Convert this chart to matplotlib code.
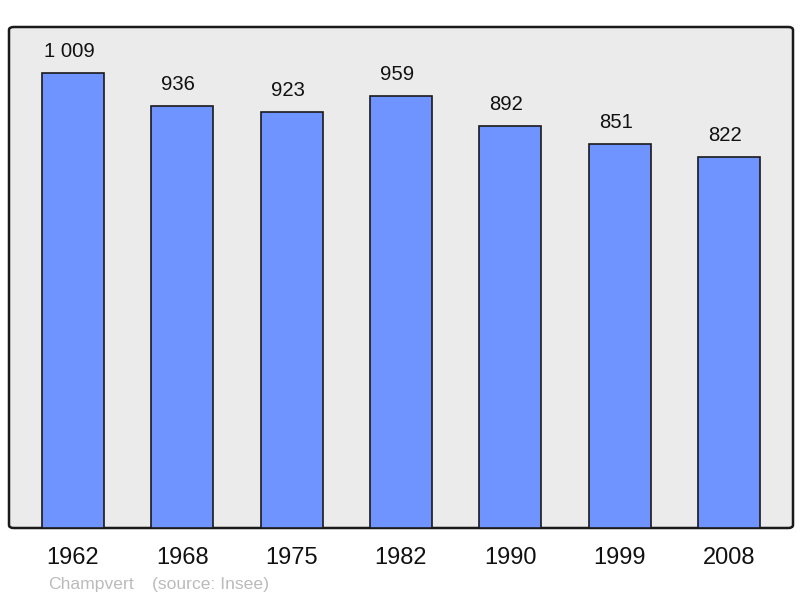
import matplotlib.pyplot as plt
from matplotlib.patches import FancyBboxPatch

years = ["1962", "1968", "1975", "1982", "1990", "1999", "2008"]
population = [1009, 936, 923, 959, 892, 851, 822]
value_labels = ["1 009", "936", "923", "959", "892", "851", "822"]

font = ["Liberation Sans", "DejaVu Sans"]
plt.rcParams['font.family'] = font

fig = plt.figure(figsize=(8, 5.98), dpi=100)
ax = fig.add_axes([9 / 800, 70 / 598, 784 / 800, 501 / 598])
ax.set_facecolor('none')

# rounded grey panel behind the bars
panel = FancyBboxPatch((0, 0), 1, 1, boxstyle="round,pad=0,rounding_size=0.006",
                       transform=ax.transAxes, facecolor='#ebebeb', edgecolor='#1a1a1a',
                       linewidth=1.8, zorder=0, clip_on=False)
ax.add_patch(panel)

x = range(len(years))
ax.bar(x, population, width=0.566, color='#7094ff', edgecolor='#1a1a1a', linewidth=1.2, zorder=2)

for i, (v, lab) in enumerate(zip(population, value_labels)):
    ax.annotate(lab, (i, v), xytext=(-2.8, 15.5), textcoords='offset points',
                ha='center', va='center', fontsize=14.6, color='#111111')

ax.set_xlim(-0.585, 6.585)
ax.set_ylim(0, 1111)
for s in ax.spines.values():
    s.set_visible(False)
ax.set_yticks([])
ax.set_xticks(list(x))
ax.set_xticklabels(years, fontsize=17, color='#111111')
ax.tick_params(axis='x', length=0, pad=13.5)

fig.text(48 / 800, 1 - 584 / 598, "Champvert", fontsize=12.6, color='#bbbbbb', va='center')
fig.text(152 / 800, 1 - 584 / 598, "(source: Insee)", fontsize=12.6, color='#bbbbbb', va='center')

fig.savefig("out.png", dpi=100)
